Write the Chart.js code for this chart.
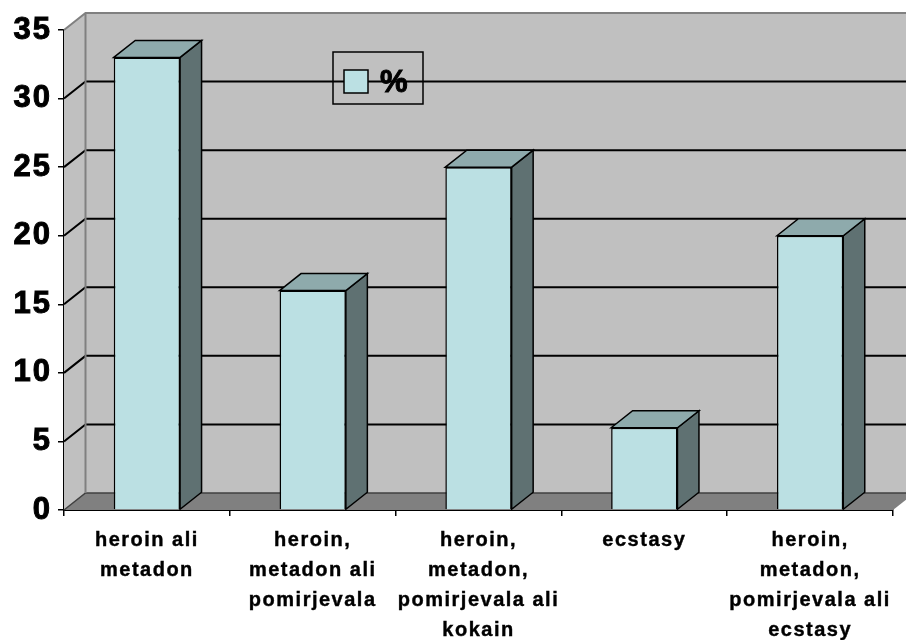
<!DOCTYPE html>
<html>
<head>
<meta charset="utf-8">
<script src="https://cdn.jsdelivr.net/npm/chart.js@4"></script>
<style>
  html, body { margin: 0; padding: 0; background: #ffffff; }
  #wrap { width: 906px; height: 640px; }
</style>
</head>
<body>
<div id="wrap"><canvas id="chart" width="906" height="640"></canvas></div>
<script>
var categories = [
	["heroin ali", "metadon"],
	["heroin,", "metadon ali", "pomirjevala"],
	["heroin,", "metadon,", "pomirjevala ali", "kokain"],
	["ecstasy"],
	["heroin,", "metadon,", "pomirjevala ali", "ecstasy"]
];
var percentValues = [33, 16, 25, 6, 20];
var seriesName = "%";
var yMax = 35, yStep = 5;

var DX = 21.5, DY = 17;
var frontColor = "#bbe0e3", sideColor = "#5f7172", topColor = "#8eaaac";
var wallColor = "#c0c0c0", floorColor = "#808080";
var fontFamily = "'Liberation Sans', Arial, sans-serif";

function poly(ctx, pts, fill, stroke, lw)
{
	ctx.beginPath();
	ctx.moveTo(pts[0][0], pts[0][1]);
	for (var i = 1; i < pts.length; i++) ctx.lineTo(pts[i][0], pts[i][1]);
	ctx.closePath();
	if (fill) { ctx.fillStyle = fill; ctx.fill(); }
	if (stroke) { ctx.strokeStyle = stroke; ctx.lineWidth = lw || 1; ctx.stroke(); }
}

var depthPlugin = {
	id: "depth3d",
	beforeDraw: function(chart) {
		// y tick labels are drawn before the datasets
		chart.ctx.letterSpacing = "2px";
	},
	beforeDatasetsDraw: function(chart) {
		var ctx = chart.ctx, a = chart.chartArea, ys = chart.scales.y;
		var left = a.left, right = a.right, bottom = a.bottom, top = ys.getPixelForValue(yMax);
		var far = chart.width + 5;
		ctx.save();
		ctx.letterSpacing = "0px";
		// walls
		ctx.fillStyle = wallColor;
		ctx.fillRect(left + DX, top - DY, far - left - DX, bottom - top);
		poly(ctx, [[left, top], [left + DX, top - DY], [left + DX, bottom - DY], [left, bottom]], wallColor);
		// floor
		poly(ctx, [[left, bottom], [left + DX, bottom - DY], [far, bottom - DY], [right + DX, bottom - DY], [right, bottom]], floorColor);
		// gridlines on the walls
		ctx.strokeStyle = "#000";
		ctx.lineWidth = 2;
		for (var v = yStep; v < yMax; v += yStep) {
			var yy = ys.getPixelForValue(v);
			ctx.beginPath();
			ctx.moveTo(left, yy);
			ctx.lineTo(left + DX, yy - DY);
			ctx.lineTo(far, yy - DY);
			ctx.stroke();
		}
		// back floor edge
		ctx.strokeStyle = "#404040";
		ctx.lineWidth = 1.5;
		ctx.beginPath();
		ctx.moveTo(left, bottom);
		ctx.lineTo(left + DX, bottom - DY);
		ctx.lineTo(far, bottom - DY);
		ctx.stroke();
		// wall edges
		ctx.strokeStyle = "#808080";
		ctx.lineWidth = 2;
		ctx.beginPath();
		ctx.moveTo(left, top);
		ctx.lineTo(left + DX, top - DY);
		ctx.lineTo(far, top - DY);
		ctx.moveTo(left + DX, top - DY);
		ctx.lineTo(left + DX, bottom - DY);
		ctx.stroke();

		// legend
		ctx.lineWidth = 1.5;
		ctx.strokeStyle = "#000";
		ctx.strokeRect(333, 52, 90, 52);
		poly(ctx, [[344, 70], [368, 70], [368, 93], [344, 93]], frontColor, "#000", 1.5);
		ctx.fillStyle = "#000";
		ctx.font = "bold 31px " + fontFamily;
		ctx.textBaseline = "middle";
		ctx.textAlign = "left";
		ctx.lineWidth = 1;
		ctx.fillText(seriesName, 380, 83);
		ctx.strokeText(seriesName, 380, 83);
		ctx.restore();
	},
	afterDatasetsDraw: function(chart) {
		var ctx = chart.ctx;
		var meta = chart.getDatasetMeta(0);
		ctx.save();
		ctx.lineJoin = "miter";
		meta.data.forEach(function(bar) {
			var p = bar.getProps(["x", "y", "base", "width"], true);
			var l = p.x - p.width / 2, r = p.x + p.width / 2;
			poly(ctx, [[r, p.y], [r + DX, p.y - DY], [r + DX, p.base - DY], [r, p.base]], sideColor, "#000", 1.5);
			poly(ctx, [[l, p.y], [l + DX, p.y - DY], [r + DX, p.y - DY], [r, p.y]], topColor, "#000", 1.5);
		});
		ctx.restore();
		// x tick labels come after the datasets (z: 1)
		ctx.letterSpacing = "1.5px";
	},
	afterDraw: function(chart) {
		chart.ctx.letterSpacing = "0px";
	}
};

new Chart(document.getElementById("chart").getContext("2d"), {
	type: "bar",
	data: {
		labels: categories,
		datasets: [{
			label: seriesName,
			data: percentValues,
			backgroundColor: frontColor,
			borderColor: "#000",
			borderWidth: 1.5,
			categoryPercentage: 1,
			barPercentage: 0.4
		}]
	},
	options: {
		responsive: false,
		animation: false,
		layout: { padding: { top: 30, right: 13, left: 0, bottom: 0 } },
		plugins: {
			legend: { display: false },
			tooltip: { enabled: false }
		},
		scales: {
			x: {
				afterFit: function(scale) { scale.height = 130; },
				grid: { drawOnChartArea: false, drawTicks: true, tickLength: 6, color: "#000", lineWidth: 1.5 },
				border: { display: true, color: "#000", width: 2 },
				ticks: {
					z: 1,
					color: "#000",
					textStrokeColor: "#000",
					textStrokeWidth: 0.4,
					padding: 9,
					maxRotation: 0,
					autoSkip: false,
					font: { family: fontFamily, size: 20, weight: "bold", lineHeight: "30px" }
				}
			},
			y: {
				min: 0,
				max: yMax,
				afterFit: function(scale) { scale.width = 64; },
				grid: { drawOnChartArea: false, drawTicks: true, tickLength: 6, color: "#000", lineWidth: 1.5 },
				border: { display: true, color: "#000", width: 2 },
				ticks: {
					stepSize: yStep,
					color: "#000",
					textStrokeColor: "#000",
					textStrokeWidth: 1,
					padding: 6,
					font: { family: fontFamily, size: 31, weight: "bold" }
				}
			}
		}
	},
	plugins: [depthPlugin]
});
</script>
</body>
</html>
